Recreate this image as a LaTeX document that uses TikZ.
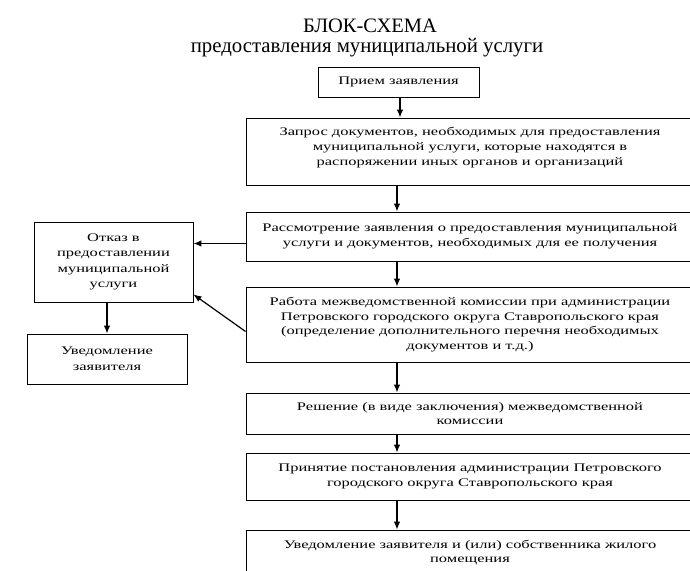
\documentclass[tikz,border=0pt]{standalone}
\usepackage{fontspec}
\setmainfont{Liberation Serif}
\newfontfamily\titlefont{Liberation Serif}
\newfontfamily\boxfont[FakeStretch=1.42]{Liberation Serif}
\usetikzlibrary{arrows.meta}

\tikzset{
  box/.style={draw, line width=0.9pt, align=center, inner sep=0pt,
    font=\boxfont\fontsize{11.6}{14.5}\selectfont},
  arr/.style={line width=1.2pt, -{Latex[length=8pt,width=6.5pt]}}
}

\begin{document}
\begin{tikzpicture}[x=1pt,y=-1pt]
        \useasboundingbox (0,0) rectangle (690,570);
        \clip (0,0) rectangle (690,570);
        \node[font=\titlefont\fontsize{20.5}{24}\selectfont, anchor=base] (title) at (370,32) {БЛОК-СХЕМА};
        \node[font=\titlefont\fontsize{20.8}{24}\selectfont, anchor=base] (subtitle) at (367,52) {предоставления муниципальной услуги};
        \node[box, minimum width=161, minimum height=30] (prijem) at (398.5,82) {Прием заявления};
        \node[box, minimum width=448, minimum height=67, font=\boxfont\fontsize{11.6}{15}\selectfont] (zapros) at (470,151.5) {Запрос документов, необходимых для предоставления\\ муниципальной услуги, которые находятся в\\ распоряжении иных органов и организаций\\[-4pt]};
        \node[box, minimum width=448, minimum height=49] (rassm) at (470,236.5) {Рассмотрение заявления о предоставления муниципальной\\ услуги и документов, необходимых для ее получения};
        \node[box, minimum width=448, minimum height=75] (rabota) at (470,324.5) {Работа межведомственной комиссии при администрации\\ Петровского городского округа Ставропольского края\\ (определение дополнительного перечня необходимых\\ документов и т.д.)};
        \node[box, minimum width=448, minimum height=41] (reshenie) at (470,413.5) {Решение (в виде заключения) межведомственной\\ комиссии};
        \node[box, minimum width=448, minimum height=47] (prinyatie) at (470,476.5) {Принятие постановления администрации Петровского\\ городского округа Ставропольского края};
        \node[box, minimum width=448, minimum height=45] (uvedoml) at (470,552.5) {Уведомление заявителя и (или) собственника жилого\\ помещения};
        \node[box, minimum width=159, minimum height=80, font=\boxfont\fontsize{11.6}{15.5}\selectfont] (otkaz) at (113.5,262) {Отказ в\\ предоставлении\\ муниципальной\\ услуги};
        \node[box, minimum width=160, minimum height=50, font=\boxfont\fontsize{11.6}{16}\selectfont] (uvedzayav) at (107,359) {Уведомление\\ заявителя};
        \coordinate (col) at (397,0);
        \draw[arr] ([xshift=1.5pt]prijem.south) -- ([xshift=1.5pt]prijem.south |- zapros.north);
        \draw[arr] (col |- zapros.south) -- (col |- rassm.north);
        \draw[arr] (col |- rassm.south) -- (col |- rabota.north);
        \draw[arr] (col |- rabota.south) -- (col |- reshenie.north);
        \draw[arr] (col |- reshenie.south) -- (col |- prinyatie.north);
        \draw[arr] (col |- prinyatie.south) -- (col |- uvedoml.north);
        \draw[arr] ([yshift=-7pt]rassm.west) -- ([yshift=-7pt]rassm.west -| otkaz.east);
        \draw[arr] ([yshift=-7pt]rabota.west) -- ([yshift=8pt]otkaz.south east);
        \draw[arr] (uvedzayav.north |- otkaz.south) -- (uvedzayav.north);
        \end{tikzpicture}
\end{document}
